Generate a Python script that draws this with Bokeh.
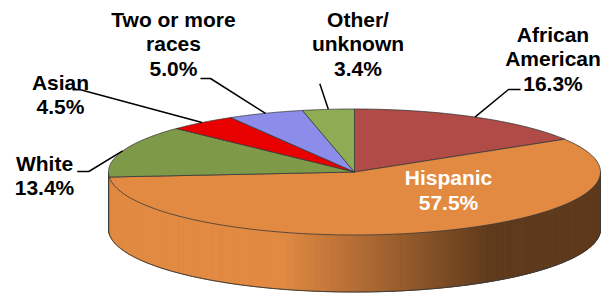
import numpy as np
from bokeh.plotting import figure
from bokeh.models import Range1d, ColumnDataSource
from bokeh.embed import file_html
from bokeh.resources import INLINE
from bokeh.core.properties import value

# ---------------- data ----------------
categories = ["African American", "Hispanic", "White", "Asian",
              "Two or more races", "Other/unknown"]
label_lines = [["African", "American"], ["Hispanic"], ["White"], ["Asian"],
               ["Two or more", "races"], ["Other/", "unknown"]]
shares = [16.3, 57.5, 13.4, 4.5, 5.0, 3.4]
colors = ["#B14B47", "#E28A42", "#7E9A48", "#E80000", "#8C8CEB", "#8FAC54"]

# ---------------- layout (reference pixel space, y downward) ----------------
CX, CY, RX, RY, DEPTH = 354.0, 171.5, 246.0, 63.0, 57.0
# centre of the capital letters of each label's first line
label_pos = [(552.5, 34.2), (448.0, 177.3), (44.0, 163.2), (60.0, 81.8),
             (173.0, 19.2), (357.5, 19.2)]
label_color = ["black", "white", "black", "black", "black", "black"]
LINE_GAP = 24.2
leader_start = [[(520, 89), (508, 89)], None, [(76.7, 171), (88.3, 171)],
                [(72, 89.3), (80, 89.3)], [(200, 78), (210, 78)], [(319.3, 83.3)]]


def pt(theta_deg, dy=0.0):
    t = np.radians(theta_deg)
    return CX + RX * np.sin(t), CY - RY * np.cos(t) + dy


total = float(sum(shares))
bounds = [0.0]
for s in shares:
    bounds.append(bounds[-1] + 360.0 * s / total)


def hexcol(rgb):
    return "#%02x%02x%02x" % tuple(int(max(0, min(255, round(c)))) for c in rgb)


def shade(col, x):
    r, g, b = int(col[1:3], 16), int(col[3:5], 16), int(col[5:7], 16)
    f = 1.0 - 0.58 * np.clip((x - 280.0) / 210.0, 0, 1)
    return hexcol((r * f, g * f, b * f))


p = figure(width=615, height=295, x_range=Range1d(0, 615), y_range=Range1d(295, 0),
           toolbar_location=None, output_backend="svg", min_border=0,
           x_axis_location=None, y_axis_location=None)
p.outline_line_color = None
p.grid.visible = False
p.background_fill_color = "white"

# ---------- side wall (front half: 90..270 deg) ----------
sxs, sys_, scs = [], [], []
step = 0.5
th = 90.0
while th < 270.0 - 1e-9:
    t1 = min(th + step, 270.0)
    mid = 0.5 * (th + t1)
    idx = max(i for i in range(len(shares)) if bounds[i] <= mid)
    x0, y0 = pt(th)
    x1, y1 = pt(t1)
    sxs.append([x0, x1, x1, x0])
    sys_.append([y0, y1, y1 + DEPTH, y0 + DEPTH])
    scs.append(shade(colors[idx], 0.5 * (x0 + x1)))
    th = t1
p.patches(sxs, sys_, fill_color=scs, line_color=scs, line_width=1)

# side outline
arc = np.linspace(90, 270, 200)
bx, by = zip(*[pt(a, DEPTH) for a in arc])
p.line(list(bx), list(by), line_color="#3a3a3a", line_width=1)
for a in (90, 270):
    xa, ya = pt(a)
    p.line([xa, xa], [ya, ya + DEPTH], line_color="#3a3a3a", line_width=1)

# ---------- top slices ----------
txs, tys = [], []
for i in range(len(shares)):
    a = np.linspace(bounds[i], bounds[i + 1], 80)
    xs = [CX] + [pt(v)[0] for v in a]
    ys = [CY] + [pt(v)[1] for v in a]
    txs.append(xs)
    tys.append(ys)
p.patches(txs, tys, fill_color=colors, line_color="#3a3a3a", line_width=0.8)

# ---------- leader lines ----------
for i in range(len(shares)):
    if leader_start[i] is None:
        continue
    mid = 0.5 * (bounds[i] + bounds[i + 1])
    ex, ey = pt(mid)
    pts = list(leader_start[i]) + [(ex, ey)]
    p.line([q[0] for q in pts], [q[1] for q in pts], line_color="black", line_width=1.5)

# ---------- labels ----------
tx, ty, tt, tc = [], [], [], []
for i in range(len(shares)):
    lines = label_lines[i] + ["%.1f%%" % shares[i]]
    x0, y0 = label_pos[i]
    for k, s in enumerate(lines):
        tx.append(x0)
        ty.append(y0 + k * LINE_GAP)
        tt.append(s)
        tc.append(label_color[i])
src = ColumnDataSource(dict(x=tx, y=ty, text=tt, color=tc))
p.text("x", "y", text="text", source=src, text_color="color", text_align="center",
       text_baseline="middle", text_font=value("Liberation Sans"),
       text_font_style="bold", text_font_size="21px")

open("out.html", "w").write(file_html(p, INLINE))
